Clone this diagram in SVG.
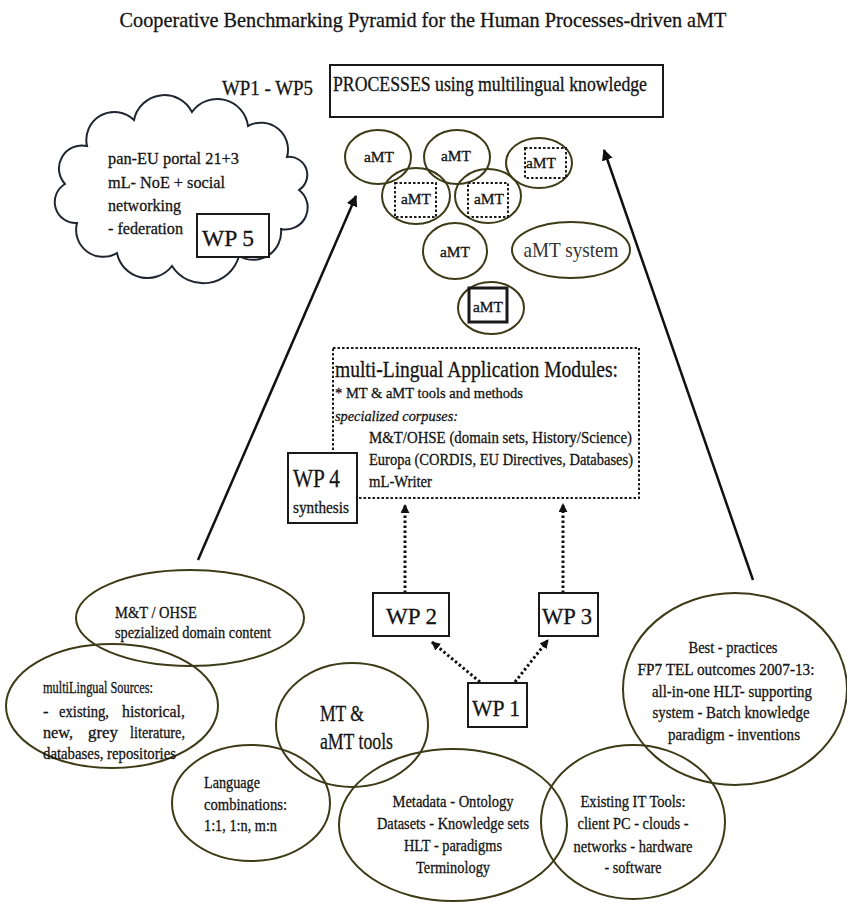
<svg xmlns="http://www.w3.org/2000/svg" width="847" height="903" viewBox="0 0 847 903">
  <style>
    text { font-family: "Liberation Serif", "Times New Roman", serif; fill: #141414; stroke: #141414; stroke-width: 0.3; }
    .t14 { font-size: 15px; }
    .t15 { font-size: 16.5px; }
    .t16 { font-size: 17.5px; }
    .mid { text-anchor: middle; }
    .ell { fill: none; stroke: #3d3a17; stroke-width: 2; }
    .box { fill: #ffffff; stroke: #1a1a1a; stroke-width: 2; }
    .dotbox { fill: none; stroke: #1a1a1a; stroke-width: 2; stroke-dasharray: 2.5 2; }
    .arrow { fill: none; stroke: #111; stroke-width: 2.5; }
    .dotarrow { fill: none; stroke: #111; stroke-width: 3; stroke-dasharray: 2.5 2.5; }
  </style>
  <defs>
    <marker id="head" viewBox="0 0 10 10" refX="9" refY="5" markerWidth="4.5" markerHeight="4.5" orient="auto" markerUnits="strokeWidth">
      <path d="M0,0 L10,5 L0,10 z" fill="#111"/>
    </marker>
    <marker id="smallhead" viewBox="0 0 10 10" refX="9" refY="5" markerWidth="3" markerHeight="3" orient="auto" markerUnits="strokeWidth">
      <path d="M0,0 L10,5 L0,10 z" fill="#111"/>
    </marker>
  </defs>

  <rect width="847" height="903" fill="#ffffff"/>

  <!-- heading -->
  <text x="423" y="27" class="mid" font-size="22" textLength="607" lengthAdjust="spacingAndGlyphs">Cooperative Benchmarking Pyramid for the Human Processes-driven aMT</text>

  <!-- top: processes -->
  <g id="wp-range">
    <text x="222" y="95" font-size="21" textLength="91" lengthAdjust="spacingAndGlyphs">WP1 - WP5</text>
  </g>
  <g id="processes">
    <rect x="330" y="65" width="333" height="52" class="box"/>
    <text x="333" y="91" font-size="20" textLength="314" lengthAdjust="spacingAndGlyphs">PROCESSES using multilingual knowledge</text>
  </g>

  <!-- connectors -->
  <g id="connectors">
    <line x1="198" y1="560" x2="356" y2="196" class="arrow" marker-end="url(#head)"/>
    <line x1="753" y1="580" x2="604" y2="150" class="arrow" marker-end="url(#head)"/>
    <line x1="405" y1="593" x2="405" y2="505" class="dotarrow" marker-end="url(#smallhead)"/>
    <line x1="563" y1="593" x2="563" y2="504" class="dotarrow" marker-end="url(#smallhead)"/>
    <line x1="480" y1="682" x2="432" y2="642" class="dotarrow" marker-end="url(#smallhead)"/>
    <line x1="515" y1="682" x2="548" y2="640" class="dotarrow" marker-end="url(#smallhead)"/>
  </g>

  <!-- portal cloud -->
  <g id="portal">
    <path class="ell" style="stroke:#1f2630"
      d="M299,190 A22,22 0 0 1 281,229 A28,28 0 0 1 239,256 A37,37 0 0 1 172,266 A31,31 0 0 1 117,253 A27,27 0 0 1 77,223 A21,21 0 0 1 65,184 A23,23 0 0 1 87,146 A28,28 0 0 1 134,120 A31,31 0 0 1 192,112 A31,31 0 0 1 248,126 A27,27 0 0 1 287,157 A18,18 0 0 1 299,190 Z"/>
    <text x="108" y="164" class="t16" textLength="131" lengthAdjust="spacingAndGlyphs">pan-EU portal 21+3</text>
    <text x="108" y="188" class="t16" textLength="117" lengthAdjust="spacingAndGlyphs">mL- NoE + social</text>
    <text x="108" y="211" class="t16" textLength="73" lengthAdjust="spacingAndGlyphs">networking</text>
    <text x="108" y="234" class="t16" textLength="75" lengthAdjust="spacingAndGlyphs">- federation</text>
  </g>
  <g id="wp5">
    <rect x="197" y="214" width="72" height="43" class="box"/>
    <text x="202" y="246" font-size="24" textLength="52" lengthAdjust="spacingAndGlyphs">WP 5</text>
  </g>

  <!-- aMT systems cluster -->
  <g id="amt-1">
    <ellipse cx="378" cy="157" rx="33" ry="27" class="ell"/>
    <text x="379" y="162" class="t14 mid" textLength="30" lengthAdjust="spacingAndGlyphs">aMT</text>
  </g>
  <g id="amt-2">
    <ellipse cx="457" cy="157" rx="33" ry="27" class="ell"/>
    <text x="456" y="161" class="t14 mid" textLength="30" lengthAdjust="spacingAndGlyphs">aMT</text>
  </g>
  <g id="amt-3">
    <ellipse cx="539" cy="163" rx="33" ry="25" class="ell"/>
    <rect x="525" y="148" width="41" height="30" class="dotbox"/>
    <text x="541" y="168" class="t14 mid" textLength="30" lengthAdjust="spacingAndGlyphs">aMT</text>
  </g>
  <g id="amt-4">
    <ellipse cx="416" cy="196" rx="34" ry="28" class="ell"/>
    <rect x="395" y="183" width="41" height="34" class="dotbox"/>
    <text x="416" y="204" class="t14 mid" textLength="30" lengthAdjust="spacingAndGlyphs">aMT</text>
  </g>
  <g id="amt-5">
    <ellipse cx="488" cy="196" rx="33" ry="27" class="ell"/>
    <rect x="468" y="183" width="40" height="34" class="dotbox"/>
    <text x="489" y="204" class="t14 mid" textLength="30" lengthAdjust="spacingAndGlyphs">aMT</text>
  </g>
  <g id="amt-6">
    <ellipse cx="455" cy="251" rx="32" ry="28" class="ell"/>
    <text x="455" y="257" class="t14 mid" textLength="30" lengthAdjust="spacingAndGlyphs">aMT</text>
  </g>
  <g id="amt-system">
    <ellipse cx="571" cy="250" rx="59" ry="28" class="ell"/>
    <text x="571" y="257" class="mid" font-size="21" textLength="95" lengthAdjust="spacingAndGlyphs" style="fill:#333;stroke:none">aMT system</text>
  </g>
  <g id="amt-7">
    <ellipse cx="491" cy="308" rx="33" ry="26" class="ell"/>
    <rect x="469" y="288" width="38" height="34" fill="none" stroke="#1a1a1a" stroke-width="3"/>
    <rect x="472" y="291" width="32" height="28" fill="none" stroke="#ffffff" stroke-width="1"/>
    <text x="488" y="312" class="t14 mid" textLength="30" lengthAdjust="spacingAndGlyphs">aMT</text>
  </g>

  <!-- application modules -->
  <g id="modules">
    <rect x="333" y="348" width="306" height="150" class="dotbox"/>
    <text x="335" y="377" font-size="23" textLength="283" lengthAdjust="spacingAndGlyphs">multi-Lingual Application Modules:</text>
    <text x="335" y="398" class="t14" textLength="188" lengthAdjust="spacingAndGlyphs">* MT &amp; aMT tools and methods</text>
    <text x="335" y="421" class="t14" font-style="italic" textLength="123" lengthAdjust="spacingAndGlyphs">specialized corpuses:</text>
    <text x="369" y="443" class="t15" textLength="263" lengthAdjust="spacingAndGlyphs">M&amp;T/OHSE (domain sets,  History/Science)</text>
    <text x="369" y="465" class="t15" textLength="264" lengthAdjust="spacingAndGlyphs">Europa (CORDIS, EU Directives, Databases)</text>
    <text x="369" y="487" class="t15" textLength="63" lengthAdjust="spacingAndGlyphs">mL-Writer</text>
  </g>
  <g id="wp4">
    <rect x="288" y="453" width="69" height="70" class="box"/>
    <text x="293" y="487" font-size="26" textLength="47" lengthAdjust="spacingAndGlyphs">WP 4</text>
    <text x="293" y="513" class="t15" textLength="56" lengthAdjust="spacingAndGlyphs">synthesis</text>
  </g>

  <!-- work packages -->
  <g id="wp2">
    <rect x="373" y="593" width="76" height="43" class="box"/>
    <text x="386" y="624" font-size="24" textLength="51" lengthAdjust="spacingAndGlyphs">WP 2</text>
  </g>
  <g id="wp3">
    <rect x="539" y="593" width="59" height="43" class="box"/>
    <text x="542" y="624" font-size="24" textLength="50" lengthAdjust="spacingAndGlyphs">WP 3</text>
  </g>
  <g id="wp1">
    <rect x="468" y="683" width="59" height="44" class="box"/>
    <text x="472" y="716" font-size="24" textLength="48" lengthAdjust="spacingAndGlyphs">WP 1</text>
  </g>

  <!-- foundation -->
  <g id="domain-content">
    <ellipse cx="190" cy="618" rx="114" ry="48" class="ell"/>
    <text x="115" y="618" class="t15" textLength="82" lengthAdjust="spacingAndGlyphs">M&amp;T / OHSE</text>
    <text x="115" y="638" class="t15" textLength="156" lengthAdjust="spacingAndGlyphs">spezialized domain content</text>
  </g>
  <g id="sources">
    <ellipse cx="112" cy="706" rx="106" ry="62" class="ell"/>
    <text x="43" y="693" class="t15" textLength="110" lengthAdjust="spacingAndGlyphs">multiLingual Sources:</text>
    <text x="43" y="717" class="t15">-</text>
    <text x="59" y="717" class="t15" textLength="50" lengthAdjust="spacingAndGlyphs">existing,</text>
    <text x="122" y="717" class="t15" textLength="63" lengthAdjust="spacingAndGlyphs">historical,</text>
    <text x="43" y="738" class="t15" textLength="30" lengthAdjust="spacingAndGlyphs">new,</text>
    <text x="88" y="738" class="t15" textLength="30" lengthAdjust="spacingAndGlyphs">grey</text>
    <text x="130" y="738" class="t15" textLength="55" lengthAdjust="spacingAndGlyphs">literature,</text>
    <text x="43" y="759" class="t15" textLength="133" lengthAdjust="spacingAndGlyphs">databases, repositories</text>
  </g>
  <g id="mt-tools">
    <ellipse cx="352" cy="725" rx="76" ry="62" class="ell"/>
    <text x="320" y="721" font-size="24" textLength="44" lengthAdjust="spacingAndGlyphs">MT &amp;</text>
    <text x="320" y="749" font-size="24" textLength="73" lengthAdjust="spacingAndGlyphs">aMT tools</text>
  </g>
  <g id="language">
    <ellipse cx="251" cy="803" rx="79" ry="58" class="ell"/>
    <text x="204" y="788" class="t15" textLength="56" lengthAdjust="spacingAndGlyphs">Language</text>
    <text x="204" y="810" class="t15" textLength="83" lengthAdjust="spacingAndGlyphs">combinations:</text>
    <text x="204" y="831" class="t15" textLength="73" lengthAdjust="spacingAndGlyphs">1:1, 1:n, m:n</text>
  </g>
  <g id="metadata">
    <ellipse cx="453" cy="825" rx="114" ry="76" class="ell"/>
    <text x="453" y="807" class="t15 mid" textLength="121" lengthAdjust="spacingAndGlyphs">Metadata - Ontology</text>
    <text x="453" y="829" class="t15 mid" textLength="152" lengthAdjust="spacingAndGlyphs">Datasets - Knowledge sets</text>
    <text x="453" y="851" class="t15 mid" textLength="98" lengthAdjust="spacingAndGlyphs">HLT - paradigms</text>
    <text x="453" y="873" class="t15 mid" textLength="74" lengthAdjust="spacingAndGlyphs">Terminology</text>
  </g>
  <g id="it-tools">
    <ellipse cx="633" cy="822" rx="92" ry="77" class="ell"/>
    <text x="633" y="807" class="t15 mid" textLength="105" lengthAdjust="spacingAndGlyphs">Existing IT Tools:</text>
    <text x="633" y="829" class="t15 mid" textLength="111" lengthAdjust="spacingAndGlyphs">client PC - clouds -</text>
    <text x="633" y="852" class="t15 mid" textLength="119" lengthAdjust="spacingAndGlyphs">networks - hardware</text>
    <text x="633" y="873" class="t15 mid" textLength="57" lengthAdjust="spacingAndGlyphs">- software</text>
  </g>
  <g id="best-practices">
    <ellipse cx="735" cy="689" rx="112" ry="96" class="ell"/>
    <text x="733" y="653" class="t15 mid" textLength="89" lengthAdjust="spacingAndGlyphs">Best - practices</text>
    <text x="726" y="675" class="t15 mid" textLength="177" lengthAdjust="spacingAndGlyphs">FP7 TEL outcomes 2007-13:</text>
    <text x="732" y="697" class="t15 mid" textLength="160" lengthAdjust="spacingAndGlyphs">all-in-one HLT- supporting</text>
    <text x="731" y="718" class="t15 mid" textLength="157" lengthAdjust="spacingAndGlyphs">system - Batch knowledge</text>
    <text x="734" y="740" class="t15 mid" textLength="132" lengthAdjust="spacingAndGlyphs">paradigm -  inventions</text>
  </g>
</svg>
